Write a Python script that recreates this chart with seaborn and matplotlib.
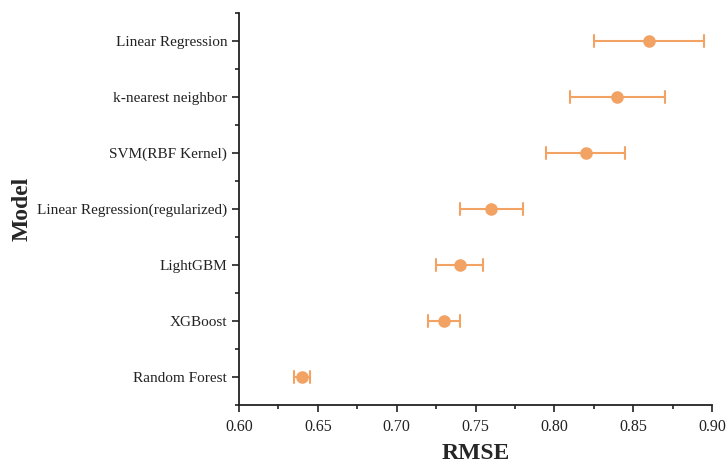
import numpy as np
import pandas as pd
import matplotlib
matplotlib.use("Agg")
import matplotlib.pyplot as plt
import seaborn as sns

models = ["Linear Regression", "k-nearest neighbor", "SVM(RBF Kernel)",
          "Linear Regression(regularized)", "LightGBM", "XGBoost", "Random Forest"]
rmse = [0.86, 0.84, 0.82, 0.76, 0.74, 0.73, 0.64]
err = [0.035, 0.030, 0.025, 0.020, 0.015, 0.010, 0.005]
xticks = [0.60, 0.65, 0.70, 0.75, 0.80, 0.85, 0.90]

sns.set_theme(style="ticks")
plt.rcParams['font.family'] = ['Liberation Serif', 'DejaVu Serif']

# two rows per model (lower / upper bound); mean = RMSE, min-max = error bar
rows = []
for m, v, e in zip(models, rmse, err):
    rows.append({"Model": m, "RMSE": v - e})
    rows.append({"Model": m, "RMSE": v + e})
df = pd.DataFrame(rows)

color = "#F2A262"
fig = plt.figure(figsize=(7.27, 4.66), dpi=100)
ax = fig.add_axes([0.3288, 0.1309, 0.6506, 0.8411])
sns.pointplot(data=df, x="RMSE", y="Model", order=models, orient="h",
              estimator="mean", errorbar=("pi", 100), linestyle="none",
              color=color, capsize=0.2, err_kws={"linewidth": 1.5},
              markersize=7, ax=ax)

ax.set_xlim(0.60, 0.90)
ax.set_ylim(len(models) - 0.5, -0.5)
ax.set_xticks(xticks)
ax.set_xticklabels([f"{t:.2f}" for t in xticks])
ax.set_xticks(np.arange(0.625, 0.9, 0.05), minor=True)
ax.set_yticks(np.arange(-0.5, len(models), 1.0), minor=True)

for s in ["top", "right"]:
    ax.spines[s].set_visible(False)
for s in ["left", "bottom"]:
    ax.spines[s].set_linewidth(1.3)
    ax.spines[s].set_color("#222222")

ax.tick_params(axis="both", which="major", length=5, width=1.2,
               colors="#222222", direction="out")
ax.tick_params(axis="both", which="minor", length=3, width=1.2, colors="#222222")
ax.tick_params(axis="x", labelsize=11.5, pad=5)
ax.tick_params(axis="y", labelsize=11)

ax.set_xlabel("RMSE", fontsize=17, fontweight="bold", labelpad=6)
ax.set_ylabel("Model", fontsize=17, fontweight="bold")
ax.yaxis.set_label_coords(-0.437, 0.5)

fig.savefig("out.png", dpi=100)
